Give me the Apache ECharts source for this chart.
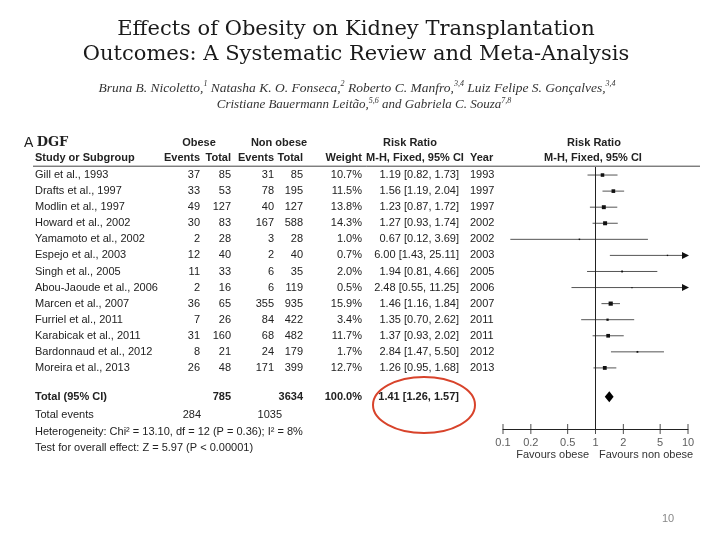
<!DOCTYPE html>
<html>
<head>
<meta charset="utf-8">
<script src="https://cdn.jsdelivr.net/npm/echarts@6/dist/echarts.min.js"></script>
<style>html,body{margin:0;padding:0;background:#fff}#c{width:720px;height:540px}</style>
</head>
<body>
<div id="c"></div>
<script>
// ---------- data ----------
const studies = ['Gill et al., 1993','Drafts et al., 1997','Modlin et al., 1997','Howard et al., 2002','Yamamoto et al., 2002','Espejo et al., 2003','Singh et al., 2005','Abou-Jaoude et al., 2006','Marcen et al., 2007','Furriel et al., 2011','Karabicak et al., 2011','Bardonnaud et al., 2012','Moreira et al., 2013'];
const obeseEvents = [37,33,49,30,2,12,11,2,36,7,31,8,26];
const obeseTotal  = [85,53,127,83,28,40,33,16,65,26,160,21,48];
const nonEvents   = [31,78,40,167,3,2,6,6,355,84,68,24,171];
const nonTotal    = [85,195,127,588,28,40,35,119,935,422,482,179,399];
const weights     = [10.7,11.5,13.8,14.3,1.0,0.7,2.0,0.5,15.9,3.4,11.7,1.7,12.7];
const rr          = [1.19,1.56,1.23,1.27,0.67,6.00,1.94,2.48,1.46,1.35,1.37,2.84,1.26];
const ciLow       = [0.82,1.19,0.87,0.93,0.12,1.43,0.81,0.55,1.16,0.70,0.93,1.47,0.95];
const ciHigh      = [1.73,2.04,1.72,1.74,3.69,25.11,4.66,11.25,1.84,2.62,2.02,5.50,1.68];
const years       = [1993,1997,1997,2002,2002,2003,2005,2006,2007,2011,2011,2012,2013];
const totalRR     = [1.41,1.26,1.57];   // estimate, low, high
const totalN      = [785,3634];
const totalEvents = [284,1035];
const tickValues  = [0.1,0.2,0.5,1,2,5,10];
const tickLabels  = ['0.1','0.2','0.5','1','2','5','10'];

// ---------- layout ----------
const ROW_TOTAL = 13.8, ROW_EVENTS = 14.9, ROW_HET = 16.0, ROW_TEST = 17.0, ROW_AXIS = 15.8;
const colX = [35,200,231,274,303,362,459,470];
const colAlign = ['left','right','right','right','right','right','right','left'];
const SANS = 'Liberation Sans, Arial, sans-serif';
const TXT = '#222';

const chart = echarts.init(document.getElementById('c'), null, {renderer:'canvas'});

function ciText(a,b,c){ return a.toFixed(2)+' ['+b.toFixed(2)+', '+c.toFixed(2)+']'; }

const option = {
  animation:false,
  backgroundColor:'#fff',
  grid:{left:503, right:32, top:167, bottom:111, containLabel:false},
  xAxis:{type:'log', logBase:10, min:0.1, max:10,
    axisLine:{show:true, onZero:false, lineStyle:{color:'#222', width:1}},
    axisTick:{show:false}, axisLabel:{show:false}, splitLine:{show:false}},
  yAxis:{type:'value', min:-0.5, max:ROW_AXIS, inverse:true, show:false},
  series:[
    // study rows text
    {type:'custom', name:'table', silent:true,
     data: studies.map((s,i)=>[1,i]),
     encode:{x:0,y:1},
     renderItem:(params, api)=>{
       const i = api.value(1);
       const y = api.coord([1,i])[1];
       const cells = [studies[i], obeseEvents[i], obeseTotal[i], nonEvents[i], nonTotal[i],
                      weights[i].toFixed(1)+'%', ciText(rr[i],ciLow[i],ciHigh[i]), years[i]];
       return {type:'group', children: cells.map((t,k)=>({type:'text',
         style:{text:String(t), x:colX[k], y:y, align:colAlign[k], verticalAlign:'middle',
                fontSize:11, fontFamily:SANS, fill:TXT}}))};
     }},
    // forest: CI lines and squares
    {type:'custom', name:'forest', silent:true,
     data: rr.map((v,i)=>[v,i]),
     encode:{x:0,y:1},
     renderItem:(params, api)=>{
       const i = api.value(1);
       const c = api.coord([rr[i], i]);
       const p1 = api.coord([Math.max(ciLow[i],0.1), i]);
       const over = ciHigh[i] > 10;
       const p2 = api.coord([Math.min(ciHigh[i],10), i]);
       const s = 0.9*Math.sqrt(weights[i]) + 0.6;
       const ch = [
         {type:'line', shape:{x1:p1[0], y1:p1[1], x2:p2[0], y2:p2[1]}, style:{stroke:'#555', lineWidth:1}},
         {type:'rect', shape:{x:c[0]-s/2, y:c[1]-s/2, width:s, height:s}, style:{fill:'#111'}}
       ];
       if (over) ch.push({type:'polygon', shape:{points:[[p2[0]-6,p2[1]-3.5],[p2[0]+1,p2[1]],[p2[0]-6,p2[1]+3.5]]}, style:{fill:'#111'}});
       return {type:'group', children:ch};
     },
     markLine:{silent:true, symbol:'none', label:{show:false},
       lineStyle:{color:'#222', width:1, type:'solid'}, data:[{xAxis:1}]}},
    // total diamond
    {type:'custom', name:'total', silent:true,
     data:[[totalRR[0], ROW_TOTAL]],
     encode:{x:0,y:1},
     renderItem:(params, api)=>{
       const y = ROW_TOTAL;
       const a = api.coord([totalRR[1], y]), m = api.coord([totalRR[0], y]), b = api.coord([totalRR[2], y]);
       const h = 5.5;
       return {type:'polygon', shape:{points:[[a[0],a[1]],[m[0],m[1]-h],[b[0],b[1]],[m[0],m[1]+h]]}, style:{fill:'#000'}};
     }},
    // axis ticks with labels
    {type:'scatter', name:'ticks', silent:true,
     data: tickValues.map(v=>[v, ROW_AXIS]),
     symbol:'rect', symbolSize:[1,10],
     itemStyle:{color:'#222'},
     label:{show:true, position:'bottom', distance:3, fontSize:11, fontFamily:SANS, color:'#333',
       formatter:(p)=>tickLabels[p.dataIndex]}}
  ]
};
chart.setOption(option);

// ---------- texts tied to the row scale ----------
const yOf = (row)=>chart.convertToPixel({gridIndex:0}, [1,row])[1];
function t(x,y,text,opt){
  return {type:'text', silent:true, style:Object.assign({text:text, x:x, y:y, align:'left', verticalAlign:'middle',
    fontSize:11, fontFamily:SANS, fill:TXT}, opt||{})};
}
const yH1 = yOf(-2.0), yH2 = yOf(-1.05);
const bold = {fontWeight:'bold'};
const g = [
  // title
  t(356, 30, 'Effects of Obesity on Kidney Transplantation', {align:'center', fontSize:21, fontFamily:'DejaVu Serif, serif', fill:'#1a1a1a'}),
  t(356, 55, 'Outcomes: A Systematic Review and Meta-Analysis', {align:'center', fontSize:21, fontFamily:'DejaVu Serif, serif', fill:'#1a1a1a'}),
  // authors
  {type:'text', silent:true, style:{x:357, y:88, align:'center', verticalAlign:'middle',
    text:'Bruna B. Nicoletto,{s|1} Natasha K. O. Fonseca,{s|2} Roberto C. Manfro,{s|3,4} Luiz Felipe S. Gonçalves,{s|3,4}',
    fontSize:13.5, fontStyle:'italic', fontFamily:'Liberation Serif, serif', fill:'#333',
    rich:{s:{fontSize:8, fontStyle:'italic', fontFamily:'Liberation Serif, serif', fill:'#333', verticalAlign:'top', padding:[0,0,8,0]}}}},
  {type:'text', silent:true, style:{x:364, y:105, align:'center', verticalAlign:'middle',
    text:'Cristiane Bauermann Leitão,{s|5,6} and Gabriela C. Souza{s|7,8}',
    fontSize:13, fontStyle:'italic', fontFamily:'Liberation Serif, serif', fill:'#333',
    rich:{s:{fontSize:8, fontStyle:'italic', fontFamily:'Liberation Serif, serif', fill:'#333', verticalAlign:'top', padding:[0,0,8,0]}}}},
  // panel label
  {type:'text', silent:true, style:{x:24, y:yH1, align:'left', verticalAlign:'middle',
    text:'{a|A} {b|DGF}', rich:{a:{fontSize:14, fontFamily:SANS, fill:TXT}, b:{fontSize:13, fontWeight:'bold', fontFamily:'DejaVu Serif, serif', fill:TXT}}}},
  // group headers
  t(199, yH1, 'Obese', Object.assign({align:'center'}, bold)),
  t(279, yH1, 'Non obese', Object.assign({align:'center'}, bold)),
  t(410, yH1, 'Risk Ratio', Object.assign({align:'center'}, bold)),
  t(594, yH1, 'Risk Ratio', Object.assign({align:'center'}, bold)),
  t(35,  yH2, 'Study or Subgroup', bold),
  t(200, yH2, 'Events', Object.assign({align:'right'}, bold)),
  t(231, yH2, 'Total', Object.assign({align:'right'}, bold)),
  t(274, yH2, 'Events', Object.assign({align:'right'}, bold)),
  t(303, yH2, 'Total', Object.assign({align:'right'}, bold)),
  t(362, yH2, 'Weight', Object.assign({align:'right'}, bold)),
  t(415, yH2, 'M-H, Fixed, 95% CI', Object.assign({align:'center'}, bold)),
  t(470, yH2, 'Year', bold),
  t(593, yH2, 'M-H, Fixed, 95% CI', Object.assign({align:'center'}, bold)),
  // header rule
  {type:'line', silent:true, shape:{x1:33, y1:yOf(-0.55), x2:700, y2:yOf(-0.55)}, style:{stroke:'#444', lineWidth:1}},
  // total rows
  t(35,  yOf(ROW_TOTAL), 'Total (95% CI)', bold),
  t(231, yOf(ROW_TOTAL), String(totalN[0]), Object.assign({align:'right'}, bold)),
  t(303, yOf(ROW_TOTAL), String(totalN[1]), Object.assign({align:'right'}, bold)),
  t(362, yOf(ROW_TOTAL), '100.0%', Object.assign({align:'right'}, bold)),
  t(459, yOf(ROW_TOTAL), ciText(totalRR[0], totalRR[1], totalRR[2]), Object.assign({align:'right'}, bold)),
  t(35,  yOf(ROW_EVENTS), 'Total events'),
  t(201, yOf(ROW_EVENTS), String(totalEvents[0]), {align:'right'}),
  t(282, yOf(ROW_EVENTS), String(totalEvents[1]), {align:'right'}),
  t(35,  yOf(ROW_HET), 'Heterogeneity: Chi² = 13.10, df = 12 (P = 0.36); I² = 8%'),
  t(35,  yOf(ROW_TEST), 'Test for overall effect: Z = 5.97 (P < 0.00001)'),
  // favours
  t(589, 455, 'Favours obese', {align:'right', fill:'#333'}),
  t(599, 455, 'Favours non obese', {align:'left', fill:'#333'}),
  // red ellipse highlight
  {type:'ellipse', silent:true, shape:{cx:424, cy:405, rx:51, ry:28}, style:{fill:'none', stroke:'#d8432b', lineWidth:2}},
  // page number
  t(668, 519, '10', {align:'center', fontSize:11, fill:'#888'})
];
chart.setOption({graphic:g});
</script>
</body>
</html>
